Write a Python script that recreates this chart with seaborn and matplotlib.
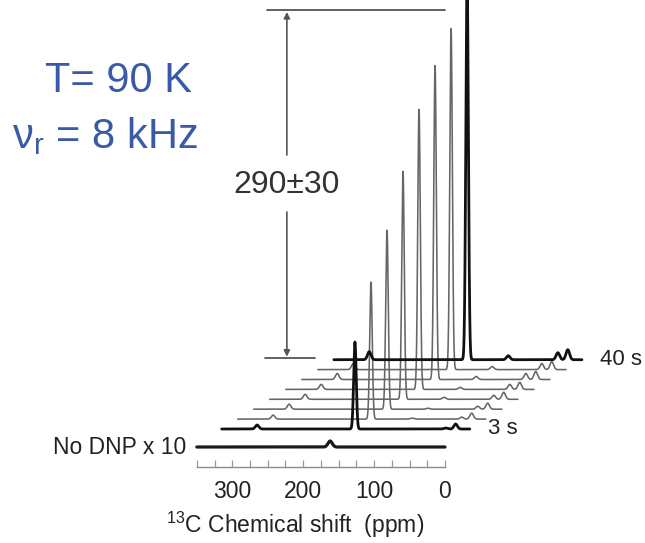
import numpy as np
import pandas as pd
import matplotlib
matplotlib.use("Agg")
import matplotlib.pyplot as plt
import seaborn as sns

# DNP build-up spectra, from the 3 s trace (bottom) to the 40 s trace (top)
peak_heights = [87, 137, 179, 228, 280, 314, 341, 380]
left_sideband = [4, 4, 5, 5, 5, 6, 6, 8]
right_sideband_a = [1, 2, 3, 4, 5, 6, 6, 7]
right_sideband_b = [5, 6, 6, 7, 7, 8, 8, 10]
small_peak = [0, 1, 1, 2, 2, 3, 3, 4]
trace_labels = ["3 s", "", "", "", "", "", "", "40 s"]

main_ppm = 162
left_sb_ppm = 300
right_sb_ppm = [34, 20]
small_ppm = 104

no_dnp_height = 6
tick_values = [300, 200, 100, 0]


def spectrum(ppm, k):
    g = lambda c, h, s: h * np.exp(-0.5 * ((ppm - c) / s) ** 2)
    return (g(main_ppm, peak_heights[k], 1.8)
            + g(left_sb_ppm, left_sideband[k], 2.5)
            + g(right_sb_ppm[0], right_sideband_a[k], 2.5)
            + g(right_sb_ppm[1], right_sideband_b[k], 2.5)
            + g(small_ppm, small_peak[k], 2.5))


def main():
    sns.set_theme(style="white")
    plt.rcParams["font.family"] = ["Liberation Sans", "DejaVu Sans"]
    plt.rcParams["mathtext.fontset"] = "custom"
    plt.rcParams["mathtext.rm"] = "Liberation Sans"
    plt.rcParams["mathtext.it"] = "Liberation Sans"

    fig = plt.figure(figsize=(6.45, 5.43), dpi=100)
    ax = fig.add_axes([0, 76 / 543, 1, 1 - 76 / 543])

    ppm = np.linspace(350, 0, 2500)
    x_step, y_step = 22.6, 9.9
    x0, y0 = 35, 38

    # no DNP reference spectrum
    nodnp = pd.DataFrame({"ppm": ppm,
                          "y": 20 + no_dnp_height * np.exp(-0.5 * ((ppm - main_ppm) / 3) ** 2)})
    sns.lineplot(data=nodnp, x="ppm", y="y", sort=False, color="#1a1a1a", lw=2.3, ax=ax)

    for k in range(len(peak_heights)):
        df = pd.DataFrame({"ppm": ppm - (x0 + x_step * k),
                           "y": y0 + y_step * k + spectrum(ppm, k)})
        black = k in (0, len(peak_heights) - 1)
        sns.lineplot(data=df, x="ppm", y="y", sort=False,
                     color="#111111" if black else "#666666",
                     lw=2.0 if black else 1.15, ax=ax, zorder=3 if black else 2)
        if trace_labels[k]:
            ax.text(df["ppm"].iloc[-1] - 25, y0 + y_step * k, trace_labels[k],
                    fontsize=16, color="#222222", va="center", ha="left")

    ax.set_xlim(627.6, -282.1)
    ax.set_ylim(0, 467)
    for s in ["top", "left", "right"]:
        ax.spines[s].set_visible(False)
    ax.spines["bottom"].set_bounds(350, 0)
    ax.spines["bottom"].set_color("#8a8a8a")
    ax.spines["bottom"].set_linewidth(1.0)
    ax.set_xticks(tick_values)
    ax.set_xticklabels([str(t) for t in tick_values])
    ax.set_xticks(np.arange(0, 351, 25), minor=True)
    ax.tick_params(axis="x", which="both", direction="in", length=5, width=0.9,
                   color="#9a9a9a", labelsize=16.5, labelcolor="#222222", pad=9,
                   bottom=True)
    ax.set_yticks([])
    ax.set_xlabel("")
    ax.set_ylabel("")

    # enhancement marker
    top_base = y0 + y_step * (len(peak_heights) - 1) + 2
    bar_top = 457
    ax.plot([251, 0], [bar_top, bar_top], color="#555555", lw=1.3)
    ax.plot([254, 183], [top_base, top_base], color="#555555", lw=1.3)
    arrow = dict(arrowstyle="-|>", color="#555555", lw=1.2, mutation_scale=9,
                 shrinkA=0, shrinkB=0)
    ax.annotate("", xy=(223, bar_top - 2), xytext=(223, 312), arrowprops=arrow)
    ax.annotate("", xy=(223, top_base + 1), xytext=(223, 255), arrowprops=arrow)
    ax.text(224, 282, "290±30", fontsize=23, color="#333333", ha="center", va="center")

    ax.text(350 + 15, 20, "No DNP x 10", fontsize=16.5, color="#222222",
            ha="right", va="center")
    fig.text(295 / 645, 1 - 525 / 543, "$^{13}$C Chemical shift  (ppm)",
             fontsize=16.5, color="#222222", ha="center", va="center")

    blue = "#3a5aa8"
    fig.text(118 / 645, 1 - 81 / 543, "T= 90 K", fontsize=30, color=blue,
             ha="center", va="center")
    fig.text(105 / 645, 1 - 136 / 543, r"ν$_{\mathrm{r}}$ = 8 kHz", fontsize=30,
             color=blue, ha="center", va="center")

    fig.savefig("out.png", dpi=100)
    plt.close(fig)


if __name__ == "__main__":
    main()
